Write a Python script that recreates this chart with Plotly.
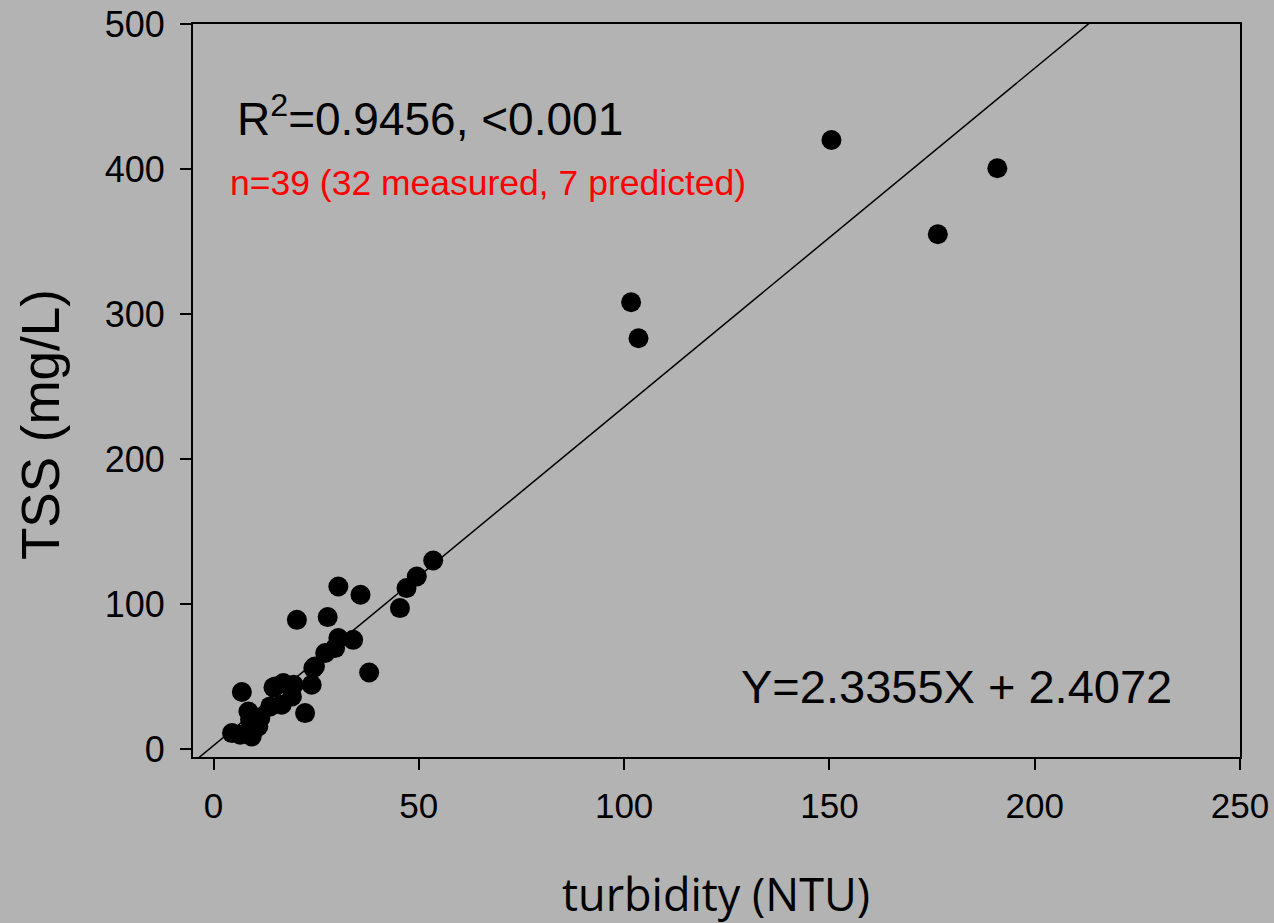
import plotly.graph_objects as go

# turbidity (NTU) and TSS (mg/L)
turbidity = [4.5, 6.5, 9.3, 10.9, 11.4, 8.5, 8.9, 6.9, 13.8, 15.0, 17.0, 19.5,
             16.6, 19.1, 22.3, 23.9, 24.7, 14.6, 20.3, 27.8, 30.4, 35.8,
             30.4, 34.0, 29.6, 27.2, 24.3, 37.9, 45.4, 47.0, 49.5, 53.5,
             101.7, 103.5, 150.5, 176.4, 190.9]
tss = [11.0, 9.9, 8.7, 15.6, 21.4, 25.9, 20.2, 39.3, 29.4, 43.2, 45.5, 44.3,
       30.5, 36.3, 24.8, 44.3, 56.9, 42.5, 89.1, 91.0, 112.1, 106.4,
       76.5, 75.3, 69.6, 66.2, 55.8, 52.8, 97.2, 111.0, 119.0, 130.0,
       308.1, 283.3, 420.0, 355.0, 400.5]

slope = 2.3355
intercept = 2.4072
fit_x = [-5, 250]
fit_y = [slope * v + intercept for v in fit_x]

x_ticks = [0, 50, 100, 150, 200, 250]
y_ticks = [0, 100, 200, 300, 400, 500]

BG = "#b3b3b3"
FONT = "Liberation Sans, Arial, sans-serif"
L, R, T, B = 193, 34, 24, 166
W, H = 1274, 923

fig = go.Figure()
fig.add_trace(go.Scatter(x=fit_x, y=fit_y, mode="lines",
                         line=dict(color="black", width=1.5),
                         hoverinfo="skip", showlegend=False))
fig.add_trace(go.Scatter(x=turbidity, y=tss, mode="markers",
                         marker=dict(color="black", size=20, line=dict(width=0)),
                         showlegend=False))

fig.update_layout(
    width=W, height=H,
    paper_bgcolor=BG, plot_bgcolor=BG,
    margin=dict(l=L, r=R, t=T, b=B, autoexpand=False),
    font=dict(family=FONT, color="black", size=35),
    xaxis=dict(range=[-5, 250], tickvals=x_ticks, ticks="outside", ticklen=11,
               tickwidth=1.5, tickcolor="black", showgrid=False, zeroline=False,
               showline=True, linecolor="black", linewidth=2, mirror=True,
               tickfont=dict(size=35), ticklabelstandoff=6, automargin=False),
    yaxis=dict(range=[-5.5, 500], tickvals=y_ticks, ticks="outside", ticklen=11,
               tickwidth=1.5, tickcolor="black", showgrid=False, zeroline=False,
               showline=True, linecolor="black", linewidth=2, mirror=True,
               tickfont=dict(size=36), ticklabelstandoff=8, automargin=False),
)


def px_to_paper(px, py):
    w = W - L - R
    h = H - T - B
    return (px - L) / w, 1 - (py - T) / h


# axis titles as annotations for exact placement
tx, ty = px_to_paper(716, 894)
fig.add_annotation(text="turbidity (NTU)", x=tx, y=ty, xref="paper", yref="paper",
                   xanchor="center", yanchor="middle", showarrow=False,
                   font=dict(size=45, family="Open Sans, sans-serif", color="black"))
yx, yy = px_to_paper(40, 425)
fig.add_annotation(text="TSS (mg/L)", x=yx, y=yy, xref="paper", yref="paper",
                   xanchor="center", yanchor="middle", showarrow=False, textangle=-90,
                   font=dict(size=53, color="black"))

ax, ay = px_to_paper(235, 137)
fig.add_annotation(text="R<sup>2</sup>=0.9456, <0.001", x=ax, y=ay, xref="paper", yref="paper",
                   xanchor="left", yanchor="bottom", showarrow=False,
                   font=dict(size=46, color="black"), yshift=-10)
bx, by = px_to_paper(228, 197)
fig.add_annotation(text="n=39 (32 measured, 7 predicted)", x=bx, y=by, xref="paper", yref="paper",
                   xanchor="left", yanchor="bottom", showarrow=False,
                   font=dict(size=35.5, color="red"), yshift=-8)
cx, cy = px_to_paper(739, 705)
fig.add_annotation(text="Y=2.3355X + 2.4072", x=cx, y=cy, xref="paper", yref="paper",
                   xanchor="left", yanchor="bottom", showarrow=False,
                   font=dict(size=47, color="black"), yshift=-10)

fig.write_html("out.html", config={"displayModeBar": False})

# remove the default page margin so the figure fills the window
with open("out.html", "r", encoding="utf-8") as f:
    html = f.read()
html = html.replace("<head>", "<head><style>html,body{margin:0;padding:0;overflow:hidden;background:%s}</style>" % BG, 1)
with open("out.html", "w", encoding="utf-8") as f:
    f.write(html)
